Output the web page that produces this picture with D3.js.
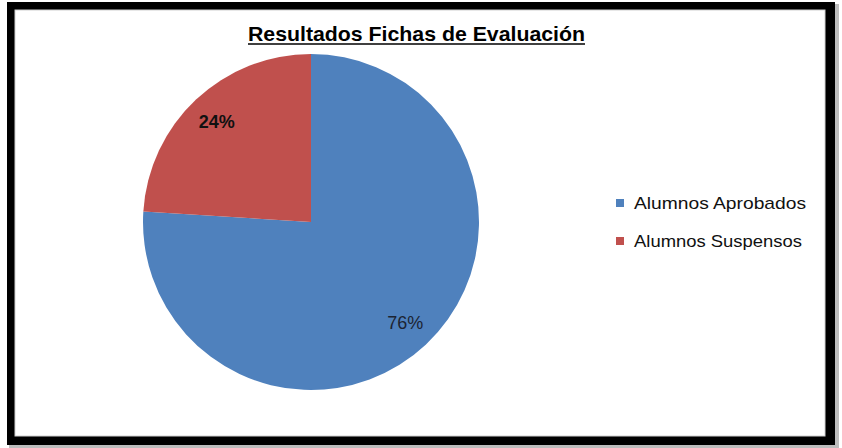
<!DOCTYPE html>
<html>
<head>
<meta charset="utf-8">
<script src="https://cdn.jsdelivr.net/npm/d3@7"></script>
<style>
  body { margin: 0; background: #fff; }
  text { font-family: "Liberation Sans Narrow", "Liberation Sans", sans-serif; }
</style>
</head>
<body>
<svg id="chart"></svg>
<script>
// data
const categories = ["Alumnos Aprobados", "Alumnos Suspensos"];
const values = [76, 24];
const colors = ["#4f81bd", "#c0504d"];
const chartTitle = "Resultados Fichas de Evaluación";

const width = 842, height = 448;

const svg = d3.select("#chart")
    .attr("width", width)
    .attr("height", height);

// frame: soft shadow, thick black border, white inside
svg.append("rect")
    .attr("x", 9).attr("y", 4)
    .attr("width", 830).attr("height", 444)
    .attr("fill", "#bdbdbd");
svg.append("rect")
    .attr("x", 7).attr("y", 2)
    .attr("width", 828).attr("height", 443)
    .attr("fill", "#000");
svg.append("rect")
    .attr("x", 15).attr("y", 10)
    .attr("width", 810).attr("height", 426)
    .attr("fill", "#fff")
    .attr("stroke", "#d0d0d0")
    .attr("stroke-width", 1);

// title, bold and underlined
const title = svg.append("text")
    .attr("x", 416.5)
    .attr("y", 41)
    .attr("text-anchor", "middle")
    .attr("font-size", 21)
    .attr("font-weight", "bold")
    .attr("fill", "#000")
    .attr("textLength", 337)
    .attr("lengthAdjust", "spacingAndGlyphs")
    .text(chartTitle);

svg.append("line")
    .attr("x1", 248).attr("x2", 585)
    .attr("y1", 44).attr("y2", 44)
    .attr("stroke", "#000")
    .attr("stroke-width", 1.5);

// pie
const cx = 311, cy = 222, radius = 168;

const pie = d3.pie().sort(null).value(d => d);
const arcs = pie(values);

const arc = d3.arc().innerRadius(0).outerRadius(radius);
const labelArc = d3.arc().innerRadius(radius * 0.82).outerRadius(radius * 0.82);

const color = d3.scaleOrdinal().domain(categories).range(colors);

const g = svg.append("g")
    .attr("transform", `translate(${cx},${cy})`);

g.selectAll("path.slice")
    .data(arcs)
    .join("path")
    .attr("class", "slice")
    .attr("d", arc)
    .attr("fill", (d, i) => color(categories[i]));

g.selectAll("text.label")
    .data(arcs)
    .join("text")
    .attr("class", "label")
    .attr("transform", d => `translate(${labelArc.centroid(d)})`)
    .attr("text-anchor", "middle")
    .attr("dy", "0.35em")
    .attr("font-size", 18)
    .attr("font-weight", (d, i) => i === 1 ? "bold" : "normal")
    .attr("fill", (d, i) => i === 1 ? "#111" : "#1c2433")
    .text(d => d.data + "%");

// legend
const legend = svg.append("g")
    .attr("transform", "translate(616,199)");

const item = legend.selectAll("g")
    .data(categories)
    .join("g")
    .attr("transform", (d, i) => `translate(0,${i * 38})`);

item.append("rect")
    .attr("width", 8)
    .attr("height", 8)
    .attr("fill", d => color(d));

item.append("text")
    .attr("x", 18)
    .attr("y", 10)
    .attr("font-size", 17)
    .attr("fill", "#111")
    .attr("textLength", (d, i) => i === 0 ? 172 : 168)
    .attr("lengthAdjust", "spacingAndGlyphs")
    .text(d => d);
</script>
</body>
</html>
